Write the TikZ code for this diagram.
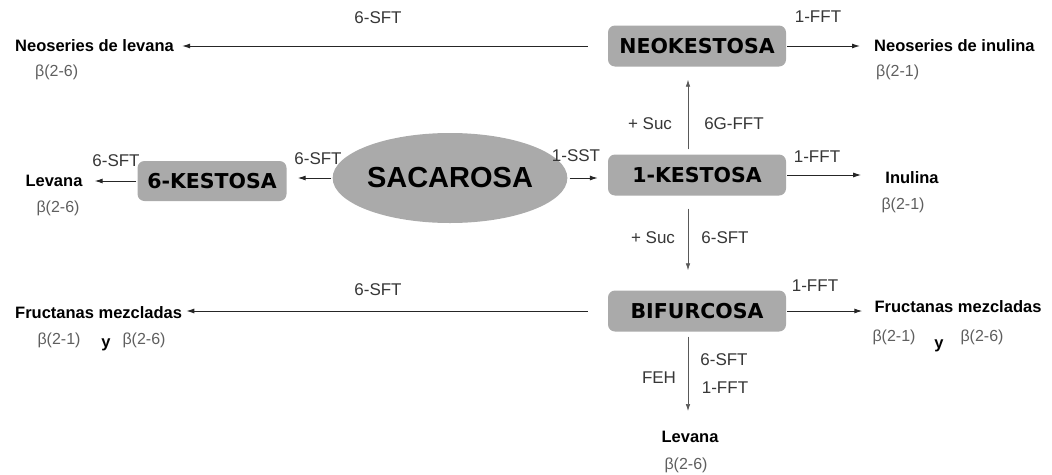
\documentclass[tikz,border=0pt]{standalone}
\usepackage{fontspec}
\setmainfont{Liberation Sans}
\newfontfamily\boxfont{DejaVu Sans}
\usetikzlibrary{arrows.meta,shapes.geometric}
\definecolor{boxgray}{RGB}{170,170,170}
\definecolor{enz}{RGB}{55,55,55}
\definecolor{betac}{RGB}{95,95,95}
\begin{document}
\begin{tikzpicture}[x=1pt,y=-1pt,
  stage/.style={draw=none,fill=boxgray,rounded corners=7pt,minimum width=178pt,minimum height=41pt,inner sep=0pt,font=\boxfont\fontsize{20.5}{20.5}\selectfont\bfseries},
  prod/.style={inner sep=0pt,font=\fontsize{16.5}{16.5}\selectfont\bfseries},
  enzlab/.style={inner sep=0pt,text=enz,font=\fontsize{17}{17}\selectfont},
  bond/.style={inner sep=0pt,text=betac,font=\fontsize{16}{16}\selectfont},
  harrow/.style={draw=black!85,line width=1pt,-{Latex[length=8pt,width=5pt]}},
  varrow/.style={draw=black!65,line width=0.7pt,-{Latex[length=7pt,width=4.5pt]}}]
\useasboundingbox[fill=white] (0,0) rectangle (1052,474);

% label that sits partly behind a box
\node[enzlab] (e6) at (116,161) {6-SFT};

% main nodes
\node[stage] (neo) at (697,46) {NEOKESTOSA};
\node[stage] (k1) at (697,175) {1-KESTOSA};
\node[stage] (bif) at (697,311) {BIFURCOSA};
\node[stage,minimum width=149pt,minimum height=40pt] (k6) at (212,181) {6-KESTOSA};
\node[ellipse,fill=boxgray,minimum width=211pt,minimum height=90pt,inner sep=0pt,
      font=\fontsize{29}{29}\selectfont\bfseries] (sac) at (450,178) {SACAROSA};

% products
\node[prod,anchor=west] (nsl) at (15,46) {Neoseries de levana};
\node[bond,anchor=west] (b1) at (35,72) {β(2-6)};
\node[prod,anchor=west] (nsi) at (874,46) {Neoseries de inulina};
\node[bond,anchor=west] (b2) at (876,72) {β(2-1)};
\node[prod] (lev1) at (54,181) {Levana};
\node[bond] (b3) at (58,208) {β(2-6)};
\node[prod] (inul) at (912,178) {Inulina};
\node[bond] (b4) at (903,205) {β(2-1)};
\node[prod,anchor=west] (fml) at (15,313) {Fructanas mezcladas};
\node[bond] (b5) at (59,340) {β(2-1)};
\node[prod] (y1) at (106,345) {y};
\node[bond] (b6) at (144,340) {β(2-6)};
\node[prod] (fmr) at (958,307) {Fructanas mezcladas};
\node[bond] (b7) at (894,337) {β(2-1)};
\node[prod] (y2) at (939,346) {y};
\node[bond] (b8) at (982,337) {β(2-6)};
\node[prod] (lev2) at (690,437) {Levana};
\node[bond] (b9) at (686,465) {β(2-6)};

% enzyme labels
\node[enzlab] (e1) at (378,18) {6-SFT};
\node[enzlab] (e2) at (818,17) {1-FFT};
\node[enzlab] (e3) at (650,124) {+ Suc};
\node[enzlab] (e4) at (734,124) {6G-FFT};
\node[enzlab] (e5) at (318,159) {6-SFT};
\node[enzlab] (e7) at (576,156) {1-SST};
\node[enzlab] (e8) at (817,157) {1-FFT};
\node[enzlab] (e9) at (653,238) {+ Suc};
\node[enzlab] (e10) at (725,238) {6-SFT};
\node[enzlab] (e11) at (378,290) {6-SFT};
\node[enzlab] (e12) at (815,286) {1-FFT};
\node[enzlab] (e13) at (659,378) {FEH};
\node[enzlab] (e14) at (724,360) {6-SFT};
\node[enzlab] (e15) at (725,388) {1-FFT};

% horizontal connectors
\draw[harrow,shorten <=20pt,shorten >=8pt] (neo.west) -- (neo.west -| nsl.east);
\draw[harrow,shorten <=1pt,shorten >=14pt] (neo.east) -- (neo.east -| nsi.west);
\draw[harrow,shorten <=1pt,shorten >=11pt] (sac.west) -- (sac.west -| k6.east);
\draw[harrow,shorten <=2pt,shorten >=10pt] (sac.east) -- (sac.east -| k1.west);
\draw[harrow,shorten <=1pt,shorten >=12pt] (k6.west) -- (k6.west -| lev1.east);
\draw[harrow,shorten <=1pt,shorten >=24pt] (k1.east) -- (k1.east -| inul.west);
\draw[harrow,shorten <=20pt,shorten >=4pt] (bif.west) -- (bif.west -| fml.east);
\draw[harrow,shorten <=1pt,shorten >=12pt] (bif.east) -- (bif.east -| fmr.west);

% vertical connectors
\draw[varrow,shorten <=5pt,shorten >=13pt] ([xshift=-9pt]k1.north) -- ([xshift=-9pt]neo.south);
\draw[varrow,shorten <=13pt,shorten >=20pt] ([xshift=-9pt]k1.south) -- ([xshift=-9pt]bif.north);
\draw[varrow,shorten <=5pt,shorten >=20pt] ([xshift=-9pt]bif.south) -- ([xshift=-2pt]lev2.north);
\end{tikzpicture}
\end{document}
